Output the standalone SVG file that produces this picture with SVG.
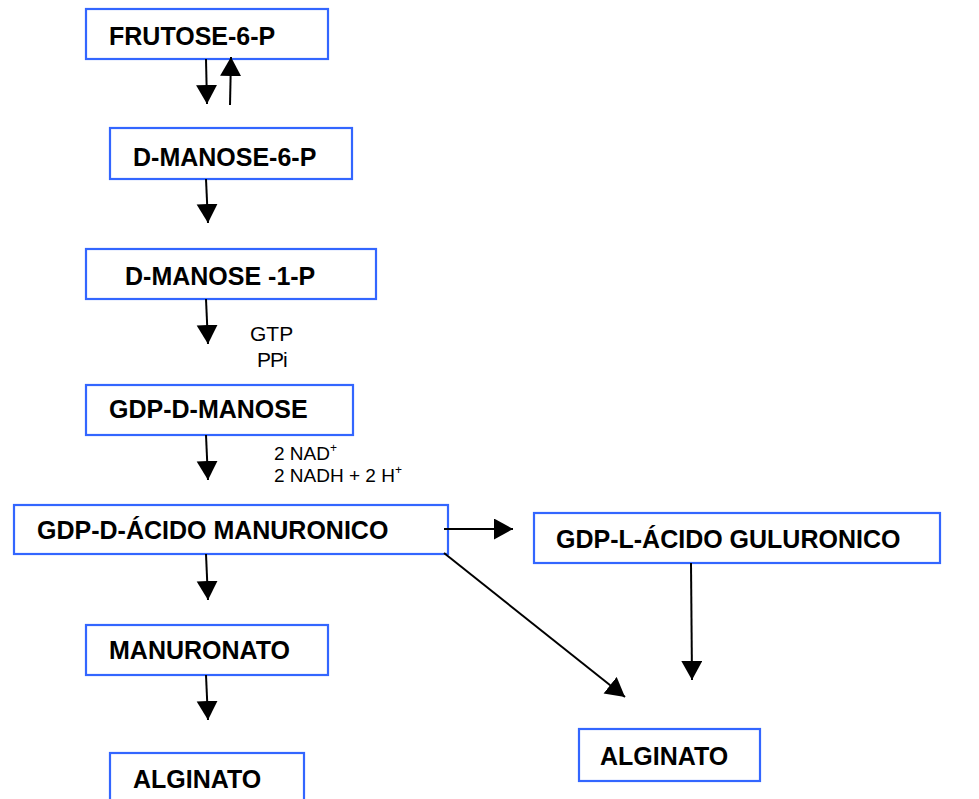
<svg xmlns="http://www.w3.org/2000/svg" width="979" height="799" viewBox="0 0 979 799">
<defs>
<style>
.box{fill:#fff;stroke:#3366ff;stroke-width:2.2}
.lbl{font-family:"Liberation Sans",Arial,sans-serif;font-weight:bold;font-size:25px;fill:#000}
.sm{font-family:"Liberation Sans",Arial,sans-serif;font-size:21px;fill:#000}
.sm2{font-family:"Liberation Sans",Arial,sans-serif;font-size:19px;fill:#000}
.sup{font-size:12px}
.ln{stroke:#000;stroke-width:2;fill:none}
</style>
<marker id="ah" markerUnits="userSpaceOnUse" markerWidth="20" markerHeight="22" refX="19" refY="10.5" orient="auto">
<path d="M0,0 L19,10.5 L0,21 z" fill="#000"/>
</marker>
</defs>
<rect width="979" height="799" fill="#fff"/>
<g id="n1"><rect class="box" x="86" y="9" width="242" height="50"/><text class="lbl" x="109" y="45">FRUTOSE-6-P</text></g>
<g id="n2"><rect class="box" x="110" y="128" width="242" height="51"/><text class="lbl" x="133" y="166">D-MANOSE-6-P</text></g>
<g id="n3"><rect class="box" x="86" y="249" width="290" height="50"/><text class="lbl" x="125" y="285">D-MANOSE -1-P</text></g>
<g id="n4"><rect class="box" x="86" y="385" width="267" height="50"/><text class="lbl" x="109" y="418">GDP-D-MANOSE</text></g>
<g id="n5"><rect class="box" x="14" y="505" width="434" height="49"/><text class="lbl" x="37" y="539">GDP-D-ÁCIDO MANURONICO</text></g>
<g id="n6"><rect class="box" x="534" y="513" width="406" height="50"/><text class="lbl" x="556" y="548">GDP-L-ÁCIDO GULURONICO</text></g>
<g id="n7"><rect class="box" x="86" y="625" width="242" height="50"/><text class="lbl" x="109" y="659">MANURONATO</text></g>
<g id="n8"><rect class="box" x="110" y="753" width="194" height="52"/><text class="lbl" x="133" y="788">ALGINATO</text></g>
<g id="n9"><rect class="box" x="579" y="729" width="181" height="52"/><text class="lbl" x="600" y="765">ALGINATO</text></g>
<g id="labels">
<text class="sm" x="250" y="341">GTP</text>
<text class="sm" x="257" y="367" letter-spacing="-1">PPi</text>
<text class="sm2" x="274" y="460">2 NAD<tspan class="sup" dy="-8">+</tspan></text>
<text class="sm2" x="274" y="482">2 NADH + 2 H<tspan class="sup" dy="-8">+</tspan></text>
</g>
<g id="connectors">
<line class="ln" x1="206" y1="59" x2="207" y2="104" marker-end="url(#ah)"/>
<line class="ln" x1="230" y1="105" x2="231" y2="57" marker-end="url(#ah)"/>
<line class="ln" x1="206" y1="179" x2="208" y2="223" marker-end="url(#ah)"/>
<line class="ln" x1="206" y1="299" x2="208" y2="344" marker-end="url(#ah)"/>
<line class="ln" x1="206" y1="435" x2="208" y2="480" marker-end="url(#ah)"/>
<line class="ln" x1="206" y1="554" x2="208" y2="600" marker-end="url(#ah)"/>
<line class="ln" x1="206" y1="675" x2="208" y2="720" marker-end="url(#ah)"/>
<line class="ln" x1="444" y1="529" x2="513" y2="529" marker-end="url(#ah)"/>
<line class="ln" x1="444" y1="553" x2="625" y2="697" marker-end="url(#ah)"/>
<line class="ln" x1="691" y1="563" x2="692" y2="680" marker-end="url(#ah)"/>
</g>
</svg>
